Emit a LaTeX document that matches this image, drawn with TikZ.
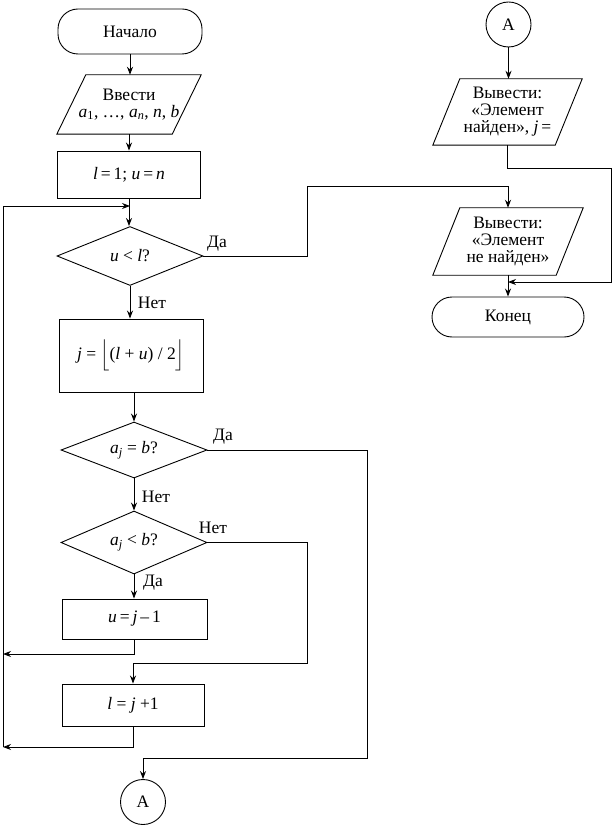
\documentclass[tikz,border=0pt]{standalone}
\usepackage{fontspec}
\usepackage{amsmath}
\setmainfont{Liberation Serif}
\usetikzlibrary{shapes.geometric,arrows.meta,calc}
\newcommand{\vi}[1]{\textit{#1}}
\newcommand{\iobox}[2]{\draw[line width=0.9pt] ($(#1.north west)+(#2,0)$) -- (#1.north east) -- ($(#1.south east)-(#2,0)$) -- (#1.south west) -- cycle;}
\begin{document}
\begin{tikzpicture}[x=1pt,y=-1pt,
  txt/.style={font=\fontsize{17.5}{17}\selectfont},
  base/.style={txt, draw, line width=0.9pt, inner sep=0pt, align=center},
  term/.style={base, rounded corners=20pt},
  proc/.style={base},
  dec/.style={base, diamond, aspect=2.5},
  conn/.style={base, circle, minimum size=45pt},
  io/.style={txt, inner sep=0pt, align=center},
  lbl/.style={txt, inner sep=0pt},
  flow/.style={line width=0.9pt, -{Stealth[length=8pt,width=6pt]}}]
\useasboundingbox (0,0) rectangle (613,826);
% left column
\node[term, minimum width=144pt, minimum height=45pt] (start) at (130,31.5) {Начало};
\node[io, minimum width=144pt, minimum height=59pt] (inp) at (129,104.5) {Ввести\\\vi{a}\textsubscript{1}, …, \vi{a}\textsubscript{\vi{n}}, \vi{n}, \vi{b}};
\iobox{inp}{29}
\node[proc, minimum width=143pt, minimum height=47pt] (init) at (129,174.5) {\vi{l}\,=\,1; \vi{u}\,=\,\vi{n}};
\node[dec, minimum width=146pt, minimum height=59pt] (d1) at (130,256) {\vi{u} < \vi{l}?};
\node[proc, minimum width=144pt, minimum height=73pt] (jbox) at (131,355.5) {\vi{j} = $\Bigl\lfloor\text{(\vi{l} + \vi{u}) / 2}\Bigr\rfloor$};
\node[dec, minimum width=146pt, minimum height=56pt] (d2) at (134,450) {\vi{a}\textsubscript{\vi{j}} = \vi{b}?};
\node[dec, minimum width=146pt, minimum height=63pt] (d3) at (134,542.5) {\vi{a}\textsubscript{\vi{j}} < \vi{b}?};
\node[proc, minimum width=145pt, minimum height=40pt] (ubox) at (134.5,619) {\vi{u}\,=\,\vi{j}\,–\,1};
\node[proc, minimum width=142pt, minimum height=42pt] (lbox) at (133,705) {\vi{l} = \vi{j} +1};
\node[conn] (cA) at (143,802) {А};
% right column
\node[conn] (cA2) at (508.5,24.5) {А};
\node[io, minimum width=149pt, minimum height=66pt] (out1) at (507.5,112) {Вывести:\\«Элемент\\найден», \vi{j}\,=};
\iobox{out1}{27}
\node[io, minimum width=150pt, minimum height=67pt] (out2) at (508,241.5) {Вывести:\\«Элемент\\не найден»};
\iobox{out2}{27}
\node[term, minimum width=152pt, minimum height=40pt] (end) at (508,317) {Конец};
% coordinates
\coordinate (jn) at (130,206);
\coordinate (Ltop) at (3,206);
\coordinate (L1) at (3,654);
\coordinate (L2) at (3,747);
\coordinate (c1) at (307,186);
\coordinate (c2) at (367,758);
\coordinate (c3) at (307,663);
\coordinate (c4) at (611.5,168);
\coordinate (m) at (508,282);
% connectors
\draw[flow] (start.south) -- (start.south |- inp.north);
\draw[flow] (inp.south) -- (inp.south |- init.north);
\draw[flow] (init.south) -- (init.south |- d1.north);
\draw[flow] (L2) -- (Ltop) -- (jn);
\draw[flow] (d1.east) -| (c1) -| (out2.north);
\node[lbl] at (217,244) {Да};
\draw[flow] (d1.south) -- (d1.south |- jbox.north);
\node[lbl] at (152,303) {Нет};
\draw[flow] (jbox.south -| d2.north) -- (d2.north);
\draw[flow] (d2.east) -| (c2) -| (cA.north);
\node[lbl] at (223,437) {Да};
\draw[flow] (d2.south) -- (d3.north);
\node[lbl] at (156,497) {Нет};
\draw[flow] (d3.east) -| (c3) -| (lbox.north);
\node[lbl] at (213,528) {Нет};
\draw[flow] (d3.south) -- (d3.south |- ubox.north);
\node[lbl] at (153,583) {Да};
\draw[flow] (ubox.south) |- (L1);
\draw[flow] (lbox.south) |- (L2);
\draw[flow] (cA2.south) -- (cA2.south |- out1.north);
\draw[flow] (out1.south) |- (c4) |- (m);
\draw[flow] (out2.south) -- (end.north);
\end{tikzpicture}
\end{document}
